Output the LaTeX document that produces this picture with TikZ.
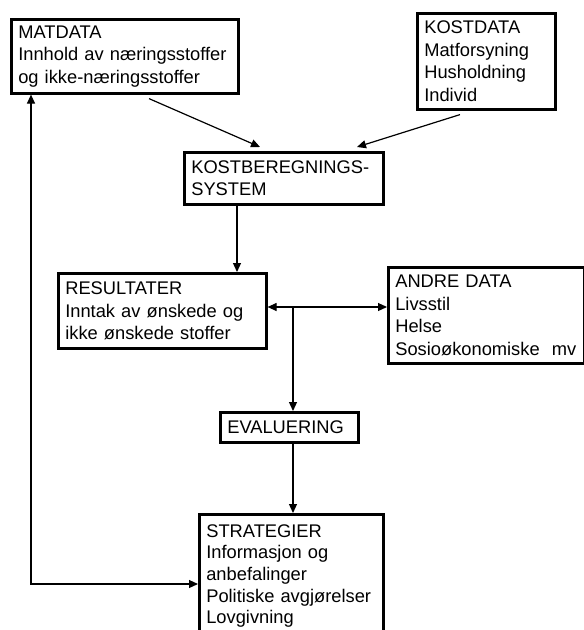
\documentclass[tikz,border=0pt]{standalone}
\usepackage{fontspec}
\setmainfont{Liberation Sans}
\usetikzlibrary{arrows.meta}
\tikzset{
  boks/.style={draw, line width=2.6pt, anchor=north west, align=left,
    inner xsep=7pt, inner ysep=0pt, font=\fontsize{18.3}{22.5}\selectfont},
  pil/.style={line width=1.2pt, -{Triangle[length=9pt,width=8pt]}},
  dpil/.style={line width=1.2pt, {Triangle[length=9pt,width=8pt]}-{Triangle[length=9pt,width=8pt]}}
}
\begin{document}
\begin{tikzpicture}[x=1pt,y=-1pt]
  \path[use as bounding box, clip] (0,0) rectangle (584,630);
  \node[boks, text width=213pt, minimum height=74pt] (mat) at (10,18)
    {MATDATA\\Innhold av næringsstoffer\\og ikke-næringsstoffer};
  \node[boks, text width=124pt, minimum height=96pt] (kost) at (416,12)
    {KOSTDATA\\Matforsyning\\Husholdning\\Individ};
  \node[boks, text width=185pt, minimum height=52pt] (beregn) at (183,151)
    {KOSTBEREGNINGS-\\SYSTEM};
  \node[boks, text width=194pt, minimum height=75pt] (res) at (57,272)
    {RESULTATER\\Inntak av ønskede og\\ikke ønskede stoffer};
  \node[boks, text width=182pt, minimum height=96pt] (andre) at (387,266)
    {ANDRE DATA\\Livsstil\\Helse\\Sosioøkonomiske~~mv};
  \node[boks, text width=124pt, minimum height=30pt] (eval) at (219,411)
    {EVALUERING};
  \node[boks, text width=170pt, inner ysep=10pt, font=\fontsize{18.3}{21.7}\selectfont] (strat) at (198,513)
    {STRATEGIER\\Informasjon og\\anbefalinger\\Politiske avgjørelser\\Lovgivning};

  \coordinate (b) at ([xshift=54pt]beregn.south west);
  \coordinate (j) at (293,307);
  \coordinate (fb) at (31,584);

  \draw[pil] ([xshift=139pt,yshift=-4pt]mat.south west) -- ([xshift=77pt,yshift=4pt]beregn.north west);
  \draw[pil] ([xshift=44pt,yshift=-4pt]kost.south west) -- ([xshift=174pt,yshift=4pt]beregn.north west);
  \draw[pil] (b) -- (b |- res.north);
  \draw[dpil] (res.east |- j) -- (andre.west |- j);
  \draw[pil] (j) -- (j |- eval.north);
  \draw[pil] (j |- eval.south) -- (j |- strat.north);
  \draw[dpil] (fb |- mat.south) -- (fb) -- (fb -| strat.west);
\end{tikzpicture}
\end{document}
